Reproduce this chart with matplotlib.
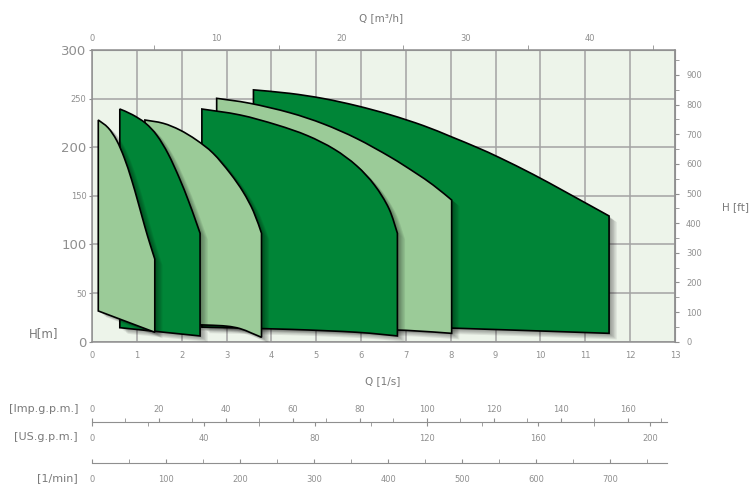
import matplotlib
matplotlib.use("Agg")
import matplotlib.pyplot as plt
from matplotlib.patches import PathPatch
from matplotlib.path import Path
from matplotlib import patheffects as pe
from matplotlib.ticker import FixedLocator

W, H = 751, 486

GRAY = "#8f8f8f"
TXT = "#7a7a7a"
LIGHT = "#9bcb98"
DARK = "#008537"
BG = "#edf4ea"

# unit conversions (per l/s, per m)
M3H_PER_LS = 3.6
FT_PER_M = 3.28084
IMP_PER_LS = 13.39
US_PER_LS = 16.08
LMIN_PER_LS = 60.6

# pump curves: upper edge (Q [l/s], H [m]) and lower edge
curve1_top = [(0.14, 228), (0.36, 220), (0.55, 207), (0.72, 189), (0.88, 167), (1.03, 143), (1.18, 118), (1.29, 101), (1.40, 85)]
curve1_bot = [(0.14, 31.6), (1.40, 9.7)]

curve2_top = [(0.62, 239.3), (0.9, 233.5), (1.2, 224.5), (1.45, 212), (1.7, 193), (1.95, 168), (2.15, 145), (2.30, 126), (2.41, 111.5)]
curve2_bot = [(0.62, 14.4), (2.41, 5.9)]

curve3_top = [(1.18, 228), (1.59, 224.6), (1.96, 217.7), (2.33, 207.4), (2.70, 193.8), (3.08, 173.2), (3.37, 154), (3.60, 134), (3.78, 111.5)]
curve3_bot = [(1.18, 19), (2.5, 17.2), (3.0, 16), (3.3, 13.5), (3.55, 9), (3.78, 4.5)]

curve4_top = [(2.45, 239.3), (3.30, 233.2), (4.12, 223), (4.80, 212), (5.40, 198), (5.90, 181), (6.30, 161), (6.62, 137), (6.81, 111.5)]
curve4_bot = [(2.45, 15), (4.41, 12.7), (5.9, 9.7), (6.81, 5.9)]

curve5_top = [(2.78, 250.3), (3.52, 245.2), (4.41, 235.5), (5.16, 224), (5.9, 209), (6.65, 190), (7.2, 174), (7.61, 161), (8.02, 145.7)]
curve5_bot = [(2.78, 18), (6.0, 13), (7.0, 11.7), (8.02, 8.6)]

curve6_top = [(3.60, 259), (4.41, 255.4), (5.16, 250.1), (5.9, 242.7), (6.64, 233.5), (7.39, 222.2), (8.0, 211), (8.6, 199.5), (9.1, 189), (9.84, 172), (10.58, 153.5), (11.53, 129.3)]
curve6_bot = [(3.60, 20), (8.02, 14), (11.53, 8.6)]

curves = [
    (curve6_top, curve6_bot, DARK),
    (curve5_top, curve5_bot, LIGHT),
    (curve4_top, curve4_bot, DARK),
    (curve3_top, curve3_bot, LIGHT),
    (curve2_top, curve2_bot, DARK),
    (curve1_top, curve1_bot, LIGHT),
]

x_ticks = list(range(0, 14))
h_ticks = list(range(0, 301, 50))
m3h_ticks = [0, 10, 20, 30, 40]
m3h_minor = [5, 15, 25, 35, 45]
ft_ticks = list(range(0, 901, 100))
ft_minor = list(range(50, 1000, 100))
imp_ticks = list(range(0, 161, 20))
imp_minor = list(range(10, 171, 20))
us_ticks = list(range(0, 201, 40))
us_minor = list(range(20, 201, 40))
lmin_ticks = list(range(0, 701, 100))
lmin_minor = list(range(50, 751, 100))


def smooth_segments(pts):
    # catmull-rom through the read points, as cubic bezier path pieces
    verts, codes = [], []
    n = len(pts)
    for i in range(n - 1):
        p0 = pts[max(i - 1, 0)]
        p1 = pts[i]
        p2 = pts[i + 1]
        p3 = pts[min(i + 2, n - 1)]
        c1 = (p1[0] + (p2[0] - p0[0]) / 6, p1[1] + (p2[1] - p0[1]) / 6)
        c2 = (p2[0] - (p3[0] - p1[0]) / 6, p2[1] - (p3[1] - p1[1]) / 6)
        verts += [c1, c2, p2]
        codes += [Path.CURVE4] * 3
    return verts, codes


def curve_path(top, bot):
    verts, codes = [top[0]], [Path.MOVETO]
    v, c = smooth_segments(top)
    verts += v
    codes += c
    rb = list(reversed(bot))
    verts.append(rb[0])
    codes.append(Path.LINETO)
    v, c = smooth_segments(rb)
    verts += v
    codes += c
    verts.append(top[0])
    codes.append(Path.CLOSEPOLY)
    return Path(verts, codes)


fig = plt.figure(figsize=(W / 100, H / 100), dpi=100)

ax_l, ax_r, ax_t, ax_b = 92, 675, 50, 341.7
ax = fig.add_axes([ax_l / W, 1 - ax_b / H, (ax_r - ax_l) / W, (ax_b - ax_t) / H])
ax.set_facecolor(BG)
ax.set_xlim(0, 13)
ax.set_ylim(0, 300)
ax.set_axisbelow(True)
ax.grid(color="#a3a3a3", lw=1.1)
for sp in ax.spines.values():
    sp.set_color(GRAY)
    sp.set_linewidth(1.1)

ax.set_xticks(x_ticks)
ax.set_xticklabels([str(v) for v in x_ticks])
ax.tick_params(axis="x", length=0, pad=7, labelsize=6, labelcolor=GRAY)
ax.set_yticks(h_ticks)
ax.set_yticklabels([str(v) for v in h_ticks])
ax.tick_params(axis="y", length=2, color=GRAY, pad=2, labelcolor=GRAY)
for v, lab in zip(h_ticks, ax.get_yticklabels()):
    lab.set_fontsize(9.5 if v % 100 == 0 else 6)

# pump curves, rightmost first so the left ones lie on top
for i, (top, bot, col) in enumerate(curves):
    patch = PathPatch(curve_path(top, bot), facecolor=col, edgecolor="black", lw=1.2,
                      joinstyle="miter", zorder=3 + i)
    shadow = [pe.SimplePatchShadow(offset=(o, -o * 0.8), shadow_rgbFace="black", alpha=0.08)
              for o in (5.5, 4.5, 3.5, 2.5, 1.5)]
    patch.set_path_effects(shadow + [pe.Normal()])
    ax.add_patch(patch)

# top axis m3/h
sec = ax.secondary_xaxis("top", functions=(lambda q: q * M3H_PER_LS, lambda q: q / M3H_PER_LS))
sec.set_xticks(m3h_ticks)
sec.xaxis.set_minor_locator(FixedLocator(m3h_minor))
sec.tick_params(which="major", length=0, pad=5, labelsize=6, labelcolor=GRAY)
sec.tick_params(which="minor", length=3.5, color=GRAY)
sec.spines["top"].set_color(GRAY)

# right axis ft
secr = ax.secondary_yaxis("right", functions=(lambda h: h * FT_PER_M, lambda h: h / FT_PER_M))
secr.set_yticks(ft_ticks)
secr.yaxis.set_minor_locator(FixedLocator(ft_minor))
secr.tick_params(which="both", length=3, color=GRAY, labelsize=6, labelcolor=GRAY, pad=5)
secr.spines["right"].set_color(GRAY)

fig.text(381 / W, 1 - 18 / H, "Q [m³/h]", ha="center", va="center", fontsize=7.5, color=TXT)
fig.text(383 / W, 1 - 381 / H, "Q [1/s]", ha="center", va="center", fontsize=7.5, color=TXT)
fig.text(735 / W, 1 - 207 / H, "H [ft]", ha="center", va="center", fontsize=7.5, color=TXT)
fig.text(44 / W, 1 - 334 / H, "H[m]", ha="center", va="center", fontsize=8.5, color=TXT)

# auxiliary flow scales below the chart
q_end = 12.82
sc_w = q_end * (ax_r - ax_l) / 13 / W


def scale_axes(py):
    a = fig.add_axes([ax_l / W, 1 - py / H, sc_w, 0.0001])
    a.set_facecolor("none")
    a.set_yticks([])
    for sp in a.spines.values():
        sp.set_visible(False)
    return a


ax_imp = scale_axes(422)
ax_imp.set_xlim(0, q_end * IMP_PER_LS)
ax_imp.spines["bottom"].set_visible(True)
ax_imp.spines["bottom"].set_color(GRAY)
ax_imp.xaxis.set_ticks_position("top")
ax_imp.xaxis.set_label_position("top")
ax_imp.set_xticks(imp_ticks)
ax_imp.xaxis.set_minor_locator(FixedLocator(imp_minor))
ax_imp.tick_params(which="both", direction="out", length=3, color=GRAY, labelsize=6, labelcolor=GRAY, pad=3)

ax_us = scale_axes(422)
ax_us.set_xlim(0, q_end * US_PER_LS)
ax_us.set_xticks(us_ticks)
ax_us.xaxis.set_minor_locator(FixedLocator(us_minor))
ax_us.tick_params(which="both", direction="out", length=3, color=GRAY, labelsize=6, labelcolor=GRAY, pad=5.5)

ax_lm = scale_axes(463)
ax_lm.set_xlim(0, q_end * LMIN_PER_LS)
ax_lm.spines["bottom"].set_visible(True)
ax_lm.spines["bottom"].set_color(GRAY)
ax_lm.set_xticks(lmin_ticks)
ax_lm.xaxis.set_minor_locator(FixedLocator(lmin_minor))
ax_lm.tick_params(which="both", direction="in", length=3, color=GRAY, labelsize=6, labelcolor=GRAY, pad=8.5)

fig.text(78 / W, 1 - 409 / H, "[Imp.g.p.m.]", ha="right", va="center", fontsize=8, color=TXT)
fig.text(78 / W, 1 - 437 / H, "[US.g.p.m.]", ha="right", va="center", fontsize=8, color=TXT)
fig.text(78 / W, 1 - 478 / H, "[1/min]", ha="right", va="center", fontsize=8, color=TXT)

fig.savefig("out.png", dpi=100)
